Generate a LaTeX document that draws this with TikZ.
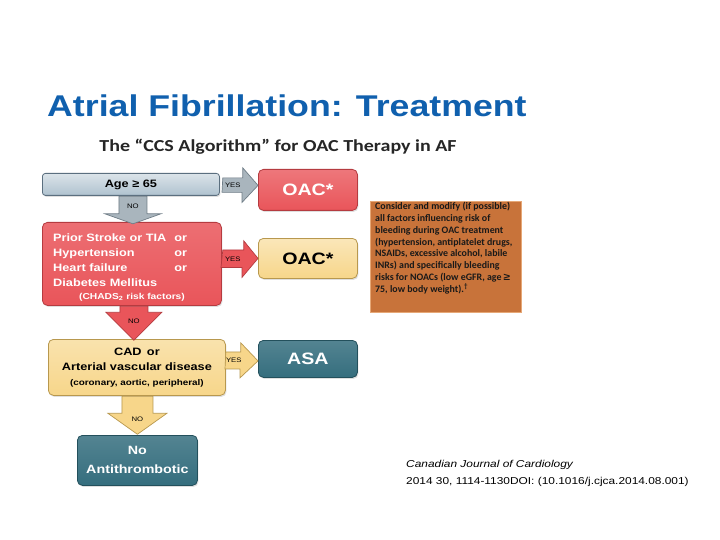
\documentclass[tikz,border=0pt]{standalone}
\usepackage{fontspec}
\setmainfont{Liberation Sans}
\newfontfamily\arialwide[FakeStretch=1.19]{Liberation Sans}
\newfontfamily\calwide[FakeStretch=1.19]{Carlito}
\newfontfamily\calnarrow{Carlito}
\usetikzlibrary{calc, shadows}

\definecolor{titleblue}{HTML}{1060AE}
\definecolor{ageblue}{HTML}{AFC2CF}
\definecolor{ageline}{HTML}{5B6F7F}
\definecolor{arrowgray}{HTML}{A9B5BD}
\definecolor{arrowgrayline}{HTML}{6F7D87}
\definecolor{riskred}{HTML}{E9555A}
\definecolor{riskredline}{HTML}{B53B40}
\definecolor{cadyellow}{HTML}{F7D68A}
\definecolor{cadyellowline}{HTML}{B8984E}
\definecolor{asateal}{HTML}{356E7E}
\definecolor{asatealline}{HTML}{23505C}
\definecolor{bleedorange}{HTML}{C8733A}
\definecolor{bleedline}{HTML}{E6A877}

\begin{document}
\begin{tikzpicture}[x=1pt, y=-1pt,
    box/.style={draw, line width=0.8pt, rounded corners=5pt, inner sep=0pt, anchor=north west,
        drop shadow={shadow xshift=1pt, shadow yshift=-1.5pt, opacity=0.25}},
    boxtext/.style={font=\arialwide\bfseries\fontsize{10.7}{15}\selectfont, inner sep=0pt},
    bigtext/.style={font=\arialwide\bfseries\fontsize{16.5}{18}\selectfont},
    blockarrow/.style={line width=0.7pt, line join=miter},
    armlabel/.style={font=\arialwide\fontsize{6.5}{7}\selectfont, inner sep=0pt},
]
  \useasboundingbox[fill=white] (0,0) rectangle (720,540);

  % Titles
  \node[anchor=base west, inner sep=0pt, text=titleblue, font=\arialwide\bfseries\fontsize{30}{34}\selectfont]
      (title) at (47,117) {Atrial Fibrillation: Treatment};
  \node[inner sep=0pt, text=black!85, font=\calwide\bfseries\fontsize{16.8}{18}\selectfont]
      (subtitle) at (278,147) {The “CCS Algorithm” for OAC Therapy in AF};

  % Decision boxes
  \node[box, rounded corners=3pt, top color=ageblue!45!white, bottom color=ageblue, draw=ageline,
      minimum width=177pt, minimum height=22pt, boxtext] (age) at (42,173) {Age {\arialwide≥} 65};
  \node[box, top color=riskred!85!white, bottom color=riskred, draw=riskredline,
      minimum width=179pt, minimum height=83pt] (risk) at (42,222) {};
  \node[box, top color=cadyellow!70!white, bottom color=cadyellow, draw=cadyellowline,
      minimum width=177pt, minimum height=56pt, boxtext, align=center] (cad) at (48,339)
      {CAD\enspace or\\Arterial vascular disease\\{\fontsize{8.3}{11}\selectfont(coronary, aortic, peripheral)}};

  % Risk factor text
  \node[anchor=north west, inner sep=0pt, text=white, boxtext] (riskfactors) at (53,230.5)
      {\begin{tabular*}{134pt}{@{}l@{\extracolsep{\fill}}r@{}}
        Prior Stroke or TIA & or\\
        Hypertension & or\\
        Heart failure & or\\
        Diabetes Mellitus & \\
      \end{tabular*}};
  \node[inner sep=0pt, text=white, font=\arialwide\bfseries\fontsize{8.6}{11}\selectfont] (chads) at (132,297)
      {(CHADS\textsubscript{2} risk factors)};

  % Therapy boxes
  \node[box, top color=riskred!80!white, bottom color=riskred, draw=riskredline,
      minimum width=99pt, minimum height=41pt, text=white, bigtext] (oacred) at (258,169) {OAC*};
  \node[box, top color=cadyellow!60!white, bottom color=cadyellow, draw=cadyellowline,
      minimum width=99pt, minimum height=40pt, text=black, bigtext] (oacyellow) at (258,238) {OAC*};
  \node[box, top color=asateal!85!white, bottom color=asateal, draw=asatealline,
      minimum width=99pt, minimum height=37pt, text=white, bigtext] (asa) at (258,340) {ASA};
  \node[box, top color=asateal!85!white, bottom color=asateal, draw=asatealline,
      minimum width=120pt, minimum height=50pt, text=white, align=center,
      font=\arialwide\bfseries\fontsize{12}{19}\selectfont] (noanti) at (77,435) {No\\Antithrombotic};

  % Bleeding risk note
  \node[anchor=north west, draw=bleedline, line width=0.8pt, fill=bleedorange,
      minimum width=151pt, minimum height=111pt, inner sep=0pt] (bleed) at (370,201) {};
  \node[anchor=north west, inner sep=0pt, align=left, text=black!90,
      font=\calnarrow\bfseries\fontsize{9.9}{11.85}\selectfont] (bleedtext) at (375,202)
      {Consider and modify (if possible)\\
       all factors influencing risk of\\
       bleeding during OAC treatment\\
       (hypertension, antiplatelet drugs,\\
       NSAIDs, excessive alcohol, labile\\
       INRs) and specifically bleeding\\
       risks for NOACs (low eGFR, age {\arialwide≥}\\
       75, low body weight).\textsuperscript{†}};

  % YES arrows
  \draw[blockarrow, fill=arrowgray, draw=arrowgrayline] ($(age.east)+(3,-6.5)$) -- ++(20,0) -- ++(0,-10)
      -- ($(oacred.west|-age.east)+(0,1)$) -- ++(-16,17) -- ++(0,-10) -- ++(-20,0) -- cycle;
  \node[armlabel] (yesage) at ($(age.east)+(13,1)$) {YES};
  \draw[blockarrow, fill=riskred, draw=riskredline] ($(risk.east)+(1,-14)$) -- ++(21,0) -- ++(0,-9)
      -- ($(oacyellow.west)$) -- ++(-16,19) -- ++(0,-10) -- ++(-21,0) -- cycle;
  \node[armlabel] (yesrisk) at ($(risk.east)+(11,-5)$) {YES};
  \draw[blockarrow, fill=cadyellow, draw=cadyellowline] ($(cad.east)+(0,-15.5)$) -- ++(15,0) -- ++(0,-9)
      -- ($(asa.west)+(0,2)$) -- ++(-18,17) -- ++(0,-9) -- ++(-15,0) -- cycle;
  \node[armlabel] (yescad) at ($(cad.east)+(8,-7)$) {YES};

  % NO arrows
  \draw[blockarrow, fill=arrowgray, draw=arrowgrayline] ($(age.south)+(-12,0.5)$) -- ++(28,0) -- ++(0,17.5)
      -- ++(14,0) -- ++(-28,10) -- ++(-28,-10) -- ++(14,0) -- cycle;
  \node[armlabel] (noage) at ($(age.south)+(2,10)$) {NO};
  \draw[blockarrow, fill=riskred, draw=riskredline] ($(risk.south)+(-12,0.5)$) -- ++(28,0) -- ++(0,6)
      -- ++(14,0) -- ++(-28,28) -- ++(-28,-28) -- ++(14,0) -- cycle;
  \node[armlabel] (norisk) at ($(risk.south)+(2,15)$) {NO};
  \draw[blockarrow, fill=cadyellow, draw=cadyellowline] ($(cad.south)+(-15,0.5)$) -- ++(31,0) -- ++(0,17)
      -- ++(14,0) -- ++(-29.5,21) -- ++(-29.5,-21) -- ++(14,0) -- cycle;
  \node[armlabel] (nocad) at ($(cad.south)+(0.5,23)$) {NO};

  % Source
  \node[anchor=base west, inner sep=0pt, align=left, font=\arialwide\fontsize{10}{17}\selectfont]
      (source) at (406,484) {\itshape Canadian Journal of Cardiology\\2014 30, 1114-1130DOI: (10.1016/j.cjca.2014.08.001)};
\end{tikzpicture}
\end{document}
